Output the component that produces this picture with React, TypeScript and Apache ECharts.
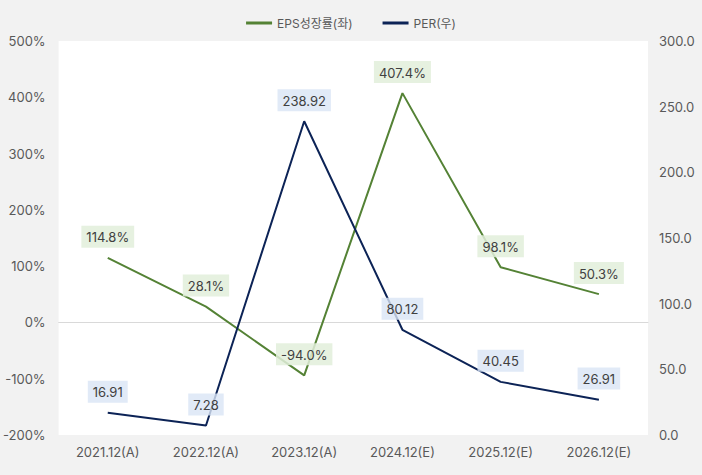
import React, { useEffect, useRef } from "react";
import * as echarts from "echarts";

const categories = ["2021.12(A)", "2022.12(A)", "2023.12(A)", "2024.12(E)", "2025.12(E)", "2026.12(E)"];
const epsGrowth = [114.8, 28.1, -94.0, 407.4, 98.1, 50.3];
const per = [16.91, 7.28, 238.92, 80.12, 40.45, 26.91];

const FONT = "Inter, 'Noto Sans CJK KR', sans-serif";

export default function App() {
  const ref = useRef<HTMLDivElement>(null);
  useEffect(() => {
    if (!ref.current) return;
    const chart = echarts.init(ref.current, null, { renderer: "svg" });
    chart.setOption({
      animation: false,
      backgroundColor: "#f2f2f2",
      textStyle: { fontFamily: FONT },
      legend: {
        top: 12,
        left: "center",
        itemGap: 30,
        itemWidth: 26,
        itemHeight: 3,
        icon: "rect",
        textStyle: { color: "#595959", fontSize: 12, fontFamily: FONT },
        data: ["EPS성장률(좌)", "PER(우)"],
      },
      grid: {
        left: 55,
        right: 54,
        top: 41,
        bottom: 40,
        show: true,
        backgroundColor: "#ffffff",
        borderWidth: 0,
      },
      xAxis: {
        type: "category",
        data: categories,
        boundaryGap: true,
        axisLine: { onZero: true, lineStyle: { color: "#d9d9d9", width: 1 } },
        axisTick: { show: false },
        axisLabel: { color: "#595959", fontSize: 13, margin: 10, fontFamily: FONT },
        position: "bottom",
      },
      yAxis: [
        {
          type: "value",
          min: -200,
          max: 500,
          interval: 100,
          splitLine: { show: false },
          axisLine: { show: false },
          axisTick: { show: false },
          axisLabel: { color: "#595959", fontSize: 13, margin: 13, formatter: (v: number) => v + "%", fontFamily: FONT },
        },
        {
          type: "value",
          min: 0,
          max: 300,
          interval: 50,
          splitLine: { show: false },
          axisLine: { show: false },
          axisTick: { show: false },
          axisLabel: { color: "#595959", fontSize: 13, margin: 11, formatter: (v: number) => v.toFixed(1), fontFamily: FONT },
        },
      ],
      series: [
        {
          name: "EPS성장률(좌)",
          type: "line",
          yAxisIndex: 0,
          data: epsGrowth,
          symbol: "circle",
          symbolSize: 0.1,
          showSymbol: true,
          lineStyle: { color: "#548235", width: 2 },
          itemStyle: { color: "#548235" },
          z: 2,
          label: {
            show: true,
            position: "top",
            distance: 10,
            formatter: (p: any) => p.value.toFixed(1) + "%",
            color: "#404040",
            fontSize: 13,
            fontFamily: FONT,
            backgroundColor: "rgba(226,239,218,0.85)",
            padding: [5, 5, 4, 5],
          },
        },
        {
          name: "PER(우)",
          type: "line",
          yAxisIndex: 1,
          data: per,
          symbol: "circle",
          symbolSize: 0.1,
          showSymbol: true,
          lineStyle: { color: "#0c2356", width: 2 },
          itemStyle: { color: "#0c2356" },
          z: 3,
          label: {
            show: true,
            position: "top",
            distance: 10,
            formatter: (p: any) => p.value.toFixed(2),
            color: "#404040",
            fontSize: 13,
            fontFamily: FONT,
            backgroundColor: "rgba(218,229,245,0.8)",
            padding: [5, 5, 4, 5],
          },
        },
      ],
    });
    return () => chart.dispose();
  }, []);
  return <div ref={ref} style={{ width: 702, height: 475, position: "fixed", left: 0, top: 0 }} />;
}
